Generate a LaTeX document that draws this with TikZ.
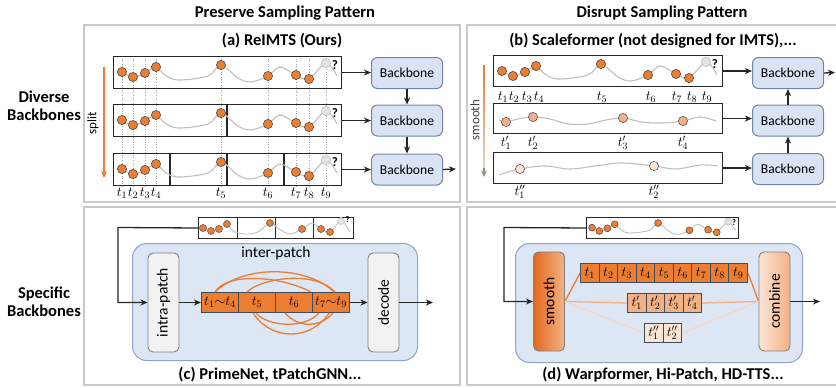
\RequirePackage{fix-cm}
\documentclass[tikz,border=0pt]{standalone}
\usepackage[no-math]{fontspec}
\usepackage{graphicx}
\setmainfont{Carlito}
\usetikzlibrary{arrows.meta}

\definecolor{obsorange}{HTML}{ED7D31}
\definecolor{midorange}{HTML}{F4B183}
\definecolor{paleorange}{HTML}{FBE5D6}
\definecolor{paleline}{HTML}{F7D7C1}
\definecolor{framegray}{HTML}{C9C9C9}
\definecolor{curvegray}{HTML}{BFBFBF}
\definecolor{guidegray}{HTML}{A6A6A6}
\definecolor{bbfill}{HTML}{DAE3F3}
\definecolor{bbline}{HTML}{6F86A6}
\definecolor{modfill}{HTML}{DCE6F4}
\definecolor{modline}{HTML}{8FA5C3}
\definecolor{opfill}{HTML}{F2F2F2}
\definecolor{opline}{HTML}{808080}
\definecolor{cellline}{HTML}{3E4B5B}
\definecolor{missfill}{HTML}{E3E3E3}
\definecolor{missline}{HTML}{BDBDBD}
\definecolor{fadetip}{HTML}{A38F80}
\definecolor{fadeend}{HTML}{E2D3C8}
\definecolor{smoothdark}{HTML}{E2691E}

\newcommand\hfont{\fontsize{16.5}{17.5}\selectfont\bfseries}
\newcommand\bbfont{\fontsize{13.6}{15}\selectfont}
\newcommand\opfont{\fontsize{15.5}{16}\selectfont}
\newcommand\tfont{\fontsize{14}{15}\selectfont}
\newcommand\qfont{\fontsize{13}{13}\selectfont\bfseries}
\newcommand\qsmall{\fontsize{8.5}{9}\selectfont\bfseries}

% one irregularly sampled series: shift x, shift y, scale, dot radius, font of "?"
\newcommand\tsseries[5]{%
  \begin{scope}[shift={(#1,#2)}, scale=#3]
    \draw[tscurve] plot[smooth, tension=0.55] coordinates {(9,16) (20,21) (32,17) (43,11) (52,19) (65,24) (95,20) (108,9) (125,22) (138,26) (155,20) (167,11) (183,19) (196,23) (213,7) (224,20)};
    \foreach \px/\py in {9/16,20/21,32/17,43/11,108/9,155/20,183/19,196/23}
      \filldraw[obs] (\px,\py) circle[radius=#4];
    \filldraw[miss] (213,7) circle[radius=#4];
    \node[inner sep=0pt, font=#5] at (222,9) {?};
  \end{scope}}

\tikzset{
  panelframe/.style={draw=framegray, line width=2pt},
  heading/.style={font=\hfont, inner sep=0pt},
  sbox/.style={draw=black!85, line width=1.1pt, inner sep=0pt, anchor=north west},
  divider/.style={draw=black!85, line width=1.4pt},
  backbone/.style={draw=bbline, fill=bbfill, line width=1pt, rounded corners=6pt,
    minimum width=71pt, minimum height=31pt, inner sep=0pt, anchor=north west, font=\bbfont},
  arr/.style={draw=black!85, line width=1.3pt, -{Stealth[length=7pt,width=6pt,inset=2pt]}},
  tscurve/.style={draw=curvegray, line width=1.1pt},
  obs/.style={fill=obsorange, draw=black!70, line width=0.6pt},
  miss/.style={fill=missfill, draw=missline, line width=0.6pt},
  guide/.style={draw=guidegray, line width=0.6pt, dotted},
  tlabel/.style={font=\tfont, inner sep=0pt},
  module/.style={draw=modline, fill=modfill, line width=1pt, rounded corners=14pt,
    inner sep=0pt, anchor=north west},
  opbox/.style={draw=opline, fill=opfill, line width=0.9pt, rounded corners=5pt,
    minimum width=31pt, minimum height=99pt, inner sep=0pt, font=\opfont},
  cell/.style={draw=cellline, line width=1pt, inner sep=0pt, anchor=north west, font=\tfont},
  link/.style={draw=obsorange, line width=1.3pt},
}

\begin{document}
\begin{tikzpicture}[x=1pt, y=-1pt, font=\bbfont]
\useasboundingbox (0,0) rectangle (836,388);

% ---------- frames and headings ----------
\draw[panelframe] (84,25) rectangle (460,202);
\draw[panelframe] (467,25) rectangle (850,202);
\draw[panelframe] (84,207) rectangle (460,385);
\draw[panelframe] (467,207) rectangle (850,385);

\node[heading] (hpres) at (285,13) {Preserve Sampling Pattern};
\node[heading] (hdis) at (662,13) {Disrupt Sampling Pattern};
\node[heading, align=center] (hdiv) at (44,106) {Diverse\\Backbones};
\node[heading, align=center] (hspec) at (44,302) {Specific\\Backbones};
\node[heading] (ta) at (282,41) {(a) ReIMTS (Ours)};
\node[heading] (tb) at (653,41) {(b) Scaleformer (not designed for IMTS),...};
\node[heading] (tc) at (270,375) {(c) PrimeNet, tPatchGNN...};
\node[heading] (td) at (663,375) {(d) Warpformer, Hi-Patch, HD-TTS...};

% ---------- (a) recursive splitting ----------
\coordinate (splittop) at (104,67);
\coordinate (splitend) at (104,178);
\draw[draw=obsorange, line width=1.6pt, -{Stealth[length=7pt,width=6pt,inset=2pt]}] (splittop) -- (splitend);
\node[rotate=90, font=\fontsize{13}{13}\selectfont] (splitlbl) at (93,123) {split};

\foreach \x in {122,133,145,156,221,268,296,309,326}
  \draw[guide] (\x,56) -- (\x,187);

\node[sbox, minimum width=228pt, minimum height=32pt] (sa1) at (113,56) {};
\node[sbox, minimum width=228pt, minimum height=32pt] (sa2) at (113,104) {};
\node[sbox, minimum width=228pt, minimum height=32pt] (sa3) at (113,153) {};
\draw[divider] (227,104) -- (227,136);
\foreach \x in {170,227,284}
  \draw[divider] (\x,153) -- (\x,185);

\tsseries{113}{56}{1}{4.6}{\qfont}
\tsseries{113}{104}{1}{4.6}{\qfont}
\tsseries{113}{153}{1}{4.6}{\qfont}

\foreach \x/\s in {122/1,133/2,145/3,156/4,221/5,268/6,296/7,309/8,326/9}
  \node[tlabel] at (\x,193) {$t_{\s}$};

\node[backbone] (bba1) at (371,57) {Backbone};
\node[backbone] (bba2) at (371,104.5) {Backbone};
\node[backbone] (bba3) at (371,153.5) {Backbone};
\draw[arr] (sa1.east) -- (bba1.west |- sa1.east);
\draw[arr] (sa2.east) -- (bba2.west |- sa2.east);
\draw[arr] (sa3.east) -- (bba3.west |- sa3.east);
\draw[arr] (bba1.south) -- (bba2.north);
\draw[arr] (bba2.south) -- (bba3.north);
\coordinate (outa) at (456,169);
\draw[arr] (bba3.east) -- (outa);

% ---------- (b) multi-scale smoothing ----------
\coordinate (smtop) at (484,65);
\coordinate (smtip) at (484,177);
\shade[top color=obsorange, bottom color=fadeend] (483.2,65) rectangle (484.8,170);
\draw[draw=fadetip, line width=1.4pt, -{Stealth[length=6.5pt,width=6pt,inset=2pt]}] (484,168) -- (smtip);
\node[rotate=90, text=black!75, font=\fontsize{13}{13}\selectfont] (smlbl) at (475,120) {smooth};

\node[sbox, minimum width=229pt, minimum height=31pt] (sb1) at (493,55) {};
\node[sbox, minimum width=229pt, minimum height=30pt] (sb2) at (493,103) {};
\node[sbox, minimum width=229pt, minimum height=31pt] (sb3) at (493,152) {};

\tsseries{493}{55}{1}{4.6}{\qfont}
\foreach \x/\s in {503/1,514/2,527/3,539/4,602/5,651/6,677/7,692/8,707/9}
  \node[tlabel] at (\x,97) {$t_{\s}$};

\draw[tscurve] plot[smooth, tension=0.6] coordinates {(499,120) (506,122) (518,119) (533,117) (550,119) (568,124) (588,124) (606,120) (623,118) (642,122) (662,123) (683,121) (700,117) (716,121)};
\foreach \x/\y in {506/122,533/117,623/118,683/121}
  \filldraw[fill=midorange, draw=black!65, line width=0.6pt] (\x,\y) circle[radius=4.6];
\foreach \x/\s in {506/1,533/2,623/3,683/4}
  \node[tlabel] at (\x,143) {$t'_{\s}$};

\draw[tscurve] plot[smooth, tension=0.6] coordinates {(499,175) (520,169) (545,166) (570,169) (595,166) (622,163) (654,166) (676,169) (700,165) (718,166)};
\foreach \x/\y in {520/169,654/166}
  \filldraw[fill=paleorange, draw=black!65, line width=0.6pt] (\x,\y) circle[radius=4.6];
\foreach \x/\s in {520/1,654/2}
  \node[tlabel] at (\x,192) {$t''_{\s}$};

\node[backbone] (bbb1) at (752,57) {Backbone};
\node[backbone] (bbb2) at (752,104.5) {Backbone};
\node[backbone] (bbb3) at (752,153) {Backbone};
\draw[arr] (sb1.east) -- (bbb1.west |- sb1.east);
\draw[arr] (sb2.east) -- (bbb2.west |- sb2.east);
\draw[arr] (sb3.east) -- (bbb3.west |- sb3.east);
\draw[arr] (bbb3.north) -- (bbb2.south);
\draw[arr] (bbb2.north) -- (bbb1.south);
\coordinate (outb) at (835,72.5);
\draw[arr] (bbb1.east) -- (outb);

% ---------- (c) patch-based backbone ----------
\node[sbox, line width=1pt, minimum width=155pt, minimum height=21pt] (minic) at (198,217) {};
\foreach \x in {237,275,313}
  \draw[draw=black!85, line width=1pt] (\x,217) -- (\x,238);
\draw[tscurve, line width=0.9pt] plot[smooth, tension=0.55] coordinates {(203,228) (211,231) (219,229) (227,224) (233,231) (245,234) (258,232) (270,223) (279,229) (290,234) (302,229) (312,223) (321,229) (330,232) (341,221) (350,232)};
\foreach \x/\y in {203/228,211/231,219/229,227/224,270/223,302/229,321/229,330/232}
  \filldraw[obs, line width=0.5pt] (\x,\y) circle[radius=3.5];
\filldraw[miss, line width=0.5pt] (341,221) circle[radius=3.5];
\node[inner sep=0pt, font=\qsmall] (qc) at (347.5,220) {?};

\node[module, minimum width=285pt, minimum height=117pt] (modc) at (132,243) {};
\node[font=\opfont, inner sep=0pt] (interlbl) at (276,253) {inter-patch};
\node[opbox] (intra) at (163.5,302.5) {\rotatebox{90}{intra-patch}};
\node[opbox] (decode) at (383.5,302.5) {\rotatebox{90}{decode}};

\node[cell, fill=obsorange, minimum width=37pt, minimum height=20pt] (c1) at (201,292) {$t_1{\sim}t_4$};
\node[cell, fill=obsorange, minimum width=37pt, minimum height=20pt] (c2) at (238,292) {$t_5$};
\node[cell, fill=obsorange, minimum width=37pt, minimum height=20pt] (c3) at (275,292) {$t_6$};
\node[cell, fill=obsorange, minimum width=37pt, minimum height=20pt] (c4) at (312,292) {$t_7{\sim}t_9$};

% links between patches, above and below the patch row
\draw[link] ([xshift=-5pt]c1.north) .. controls +(28,-27) and +(-28,-27) .. ([xshift=3pt]c4.north);
\draw[link] ([xshift=-5pt]c1.north) .. controls +(12,-20) and +(-30,-16) .. ([xshift=-2pt]c3.north east);
\draw[link] ([xshift=-10pt]c2.north) .. controls +(14,-14) and +(-20,-22) .. ([xshift=4pt]c4.north);
\draw[link] ([xshift=-4pt]c2.south) .. controls +(18,28) and +(-18,28) .. ([xshift=-2pt]c4.south);
\draw[link] ([xshift=-1pt]c2.south) .. controls +(12,14) and +(-14,16) .. ([xshift=-12pt]c4.south);
\draw[link] ([xshift=-9pt]c3.south) .. controls +(14,16) and +(-12,14) .. ([xshift=2pt]c4.south);

\coordinate (cturn) at (118,227.5);
\draw[arr] (minic.west) -- (cturn) |- (intra.west);
\draw[arr] (intra.east) -- (c1.west);
\draw[arr] (c4.east) -- (decode.west);
\coordinate (cout) at (433,302.5);
\draw[arr] (decode.east) -- (cout);

% ---------- (d) multi-scale backbone ----------
\node[sbox, line width=1pt, minimum width=152pt, minimum height=21pt] (minid) at (586,217) {};
\begin{scope}[tscurve/.append style={line width=0.9pt}, obs/.append style={line width=0.5pt}, miss/.append style={line width=0.5pt}]
  \tsseries{586}{217}{0.667}{5.2}{\qsmall}
\end{scope}

\node[module, minimum width=287pt, minimum height=119pt] (modd) at (515,243) {};
\node[opbox, left color=smoothdark, right color=midorange] (smoothop) at (549,301.5) {\rotatebox{90}{smooth}};
\node[opbox, left color=paleorange, right color=midorange] (combineop) at (774.5,301.5) {\rotatebox{90}{combine}};

\foreach \i in {1,...,9}
  \node[cell, fill=obsorange, minimum width=18.56pt, minimum height=19pt] (d\i) at ({580+(\i-1)*18.56},263) {$t_{\i}$};
\foreach \i in {1,...,4}
  \node[cell, fill=midorange, minimum width=18.5pt, minimum height=19pt] (e\i) at ({627+(\i-1)*18.5},293) {$t'_{\i}$};
\foreach \i in {1,2}
  \node[cell, fill=paleorange, minimum width=18.5pt, minimum height=19pt] (f\i) at ({644+(\i-1)*18.5},323) {$t''_{\i}$};

\draw[link] (smoothop.east) -- (d1.west);
\draw[link, draw=midorange] (smoothop.east) -- (e1.west);
\draw[link, draw=paleline] (smoothop.east) -- (f1.west);
\draw[link] (d9.east) -- (combineop.west);
\draw[link, draw=midorange] (e4.east) -- (combineop.west);
\draw[link, draw=paleline] (f2.east) -- (combineop.west);

\coordinate (dturn) at (504,227.5);
\draw[arr] (minid.west) -- (dturn) |- (smoothop.west);
\coordinate (dout) at (820,301.5);
\draw[arr] (combineop.east) -- (dout);

\end{tikzpicture}
\end{document}
